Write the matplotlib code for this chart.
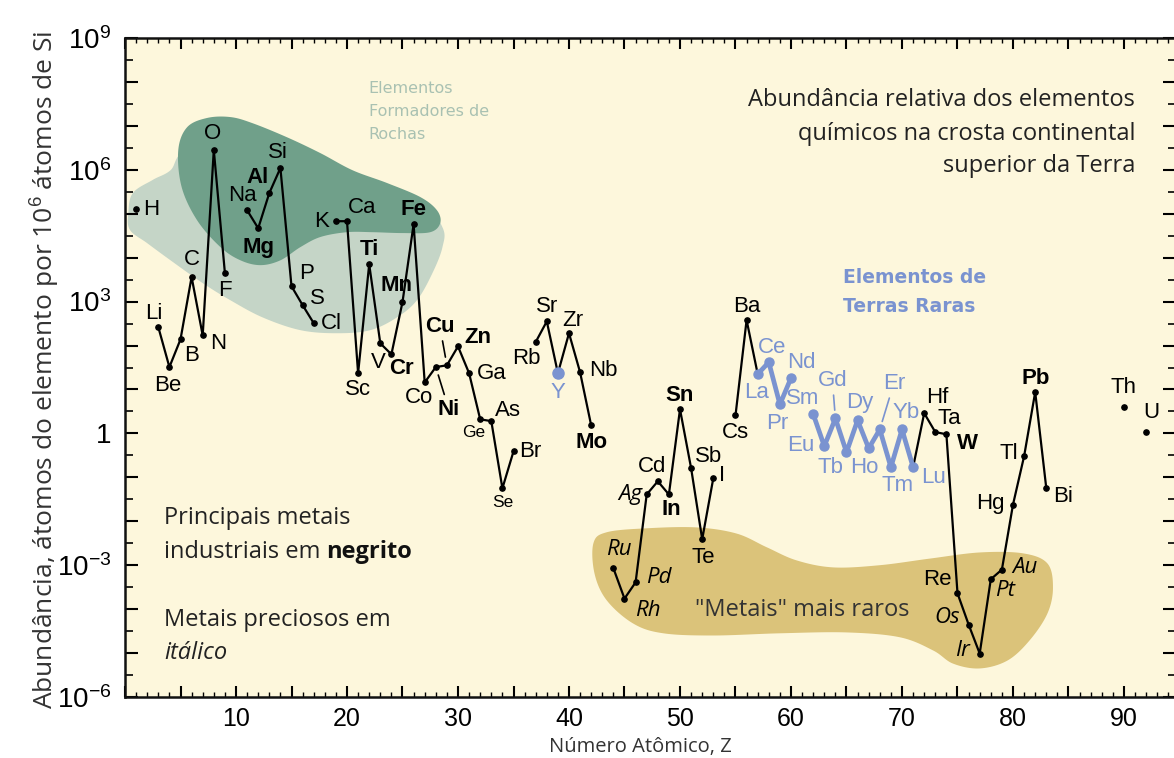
import numpy as np
import matplotlib.pyplot as plt
from matplotlib.ticker import FixedLocator, MultipleLocator, FuncFormatter

plt.rcParams['mathtext.fontset'] = 'custom'
plt.rcParams['mathtext.rm'] = 'Liberation Sans'
plt.rcParams['mathtext.it'] = 'Liberation Sans:italic'
plt.rcParams['mathtext.bf'] = 'Liberation Sans:bold'

# element data (log10 of atoms per 1e6 Si atoms)
symbols = ['H', 'Li', 'Be', 'B', 'C', 'N', 'O', 'F',
           'Na', 'Mg', 'Al', 'Si', 'P', 'S', 'Cl',
           'K', 'Ca', 'Sc', 'Ti', 'V', 'Cr', 'Mn', 'Fe', 'Co', 'Ni', 'Cu', 'Zn',
           'Ga', 'Ge', 'As', 'Se', 'Br',
           'Rb', 'Sr', 'Y', 'Zr', 'Nb', 'Mo',
           'Ru', 'Rh', 'Pd', 'Ag', 'Cd', 'In', 'Sn', 'Sb', 'Te', 'I',
           'Cs', 'Ba',
           'La', 'Ce', 'Pr', 'Nd', 'Sm', 'Eu', 'Gd', 'Tb', 'Dy', 'Ho', 'Er',
           'Tm', 'Yb', 'Lu',
           'Hf', 'Ta', 'W', 'Re', 'Os', 'Ir', 'Pt', 'Au', 'Hg', 'Tl', 'Pb', 'Bi',
           'Th', 'U']
Z = [1, 3, 4, 5, 6, 7, 8, 9,
     11, 12, 13, 14, 15, 16, 17,
     19, 20, 21, 22, 23, 24, 25, 26, 27, 28, 29, 30,
     31, 32, 33, 34, 35,
     37, 38, 39, 40, 41, 42,
     44, 45, 46, 47, 48, 49, 50, 51, 52, 53,
     55, 56,
     57, 58, 59, 60, 62, 63, 64, 65, 66, 67, 68,
     69, 70, 71,
     72, 73, 74, 75, 76, 77, 78, 79, 80, 81, 82, 83,
     90, 92]
log_abund = [5.1, 2.42, 1.51, 2.14, 3.56, 2.23, 6.45, 3.65,
             5.08, 4.67, 5.47, 6.04, 3.35, 2.92, 2.51,
             4.83, 4.83, 1.37, 3.85, 2.05, 1.8, 2.99, 4.76, 1.16, 1.51, 1.55, 1.98,
             1.37, 0.32, 0.28, -1.25, -0.41,
             2.08, 2.55, 1.37, 2.28, 1.39, 0.18,
             -3.07, -3.76, -3.39, -1.39, -1.09, -1.39, 0.55, -0.79, -2.41, -1.02,
             0.41, 2.58,
             1.35, 1.62, 0.66, 1.26, 0.44, -0.29, 0.34, -0.43, 0.30, -0.34, 0.09,
             -0.77, 0.09, -0.77,
             0.46, 0.03, -0.02, -3.64, -4.35, -5.01, -3.32, -3.1, -1.62, -0.52, 0.94, -1.25,
             0.59, 0.03]

rare_earths = ['La', 'Ce', 'Pr', 'Nd', 'Sm', 'Eu', 'Gd', 'Tb', 'Dy', 'Ho', 'Er', 'Tm', 'Yb', 'Lu']
bold_syms = ['Mg', 'Al', 'Ti', 'Cr', 'Mn', 'Fe', 'Ni', 'Cu', 'Zn', 'Mo', 'In', 'Sn', 'W', 'Pb']
italic_syms = ['Ru', 'Rh', 'Pd', 'Ag', 'Os', 'Ir', 'Pt', 'Au']
small_syms = ['Ge', 'Se']

# label placement (offset in pixels from the point)
label_pos = {
    'H': (7, 0, 'left'), 'Li': (-4, 14), 'Be': (-2, -18), 'B': (11, -16),
    'C': (0, 17), 'N': (15, -8), 'O': (-1, 17), 'F': (0, -17),
    'Na': (-5, 15), 'Mg': (0, -19), 'Al': (-12, 16), 'Si': (-2, 16),
    'P': (15, 13), 'S': (15, 7), 'Cl': (7, 0, 'left'), 'K': (-7, 0, 'right'),
    'Ca': (15, 14), 'Sc': (0, -16), 'Ti': (0, 15), 'V': (-2, -19),
    'Cr': (10, -14), 'Mn': (-6, 17), 'Fe': (0, 15), 'Co': (-6, -15),
    'Ni': (13, -42), 'Cu': (-7, 39), 'Zn': (20, 9), 'Ga': (8, 0, 'left'),
    'Ge': (-7, -13), 'As': (17, 11), 'Se': (0, -14), 'Br': (6, 0, 'left'),
    'Rb': (-9, -16), 'Sr': (0, 15), 'Y': (0, -19), 'Zr': (4, 13),
    'Nb': (9, 2, 'left'), 'Mo': (0, -17), 'Ru': (5, 19), 'Rh': (23, -12),
    'Pd': (23, 5), 'Ag': (-4, 0, 'right'), 'Cd': (-6, 15), 'In': (2, -15),
    'Sn': (0, 14), 'Sb': (17, 12), 'Te': (1, -18), 'I': (9, 3),
    'Cs': (0, -17), 'Ba': (0, 14), 'La': (-1, -18), 'Ce': (3, 15),
    'Pr': (-3, -19), 'Nd': (10, 16), 'Sm': (-11, 16), 'Eu': (-24, 1),
    'Gd': (-3, 38), 'Tb': (-16, -15), 'Dy': (2, 18), 'Ho': (-4, -19),
    'Er': (14, 46), 'Tm': (7, -18), 'Yb': (4, 17), 'Lu': (20, -10),
    'Hf': (13, 16), 'Ta': (14, 14), 'W': (21, -9), 'Re': (-20, 14),
    'Os': (-21, 7), 'Ir': (-17, 3), 'Pt': (14, -11), 'Au': (23, 2),
    'Hg': (-23, 1), 'Tl': (-15, 3), 'Pb': (0, 14), 'Bi': (17, -8),
    'Th': (0, 20), 'U': (5, 20),
}
leaders = ['Ni', 'Cu', 'Gd', 'Er']

# shaded regions, outlines in (Z, log10 abundance)
rock_dark_z = [4.8, 5.6, 7.4, 9.5, 11.5, 14.6, 17.6, 20.5, 23.6, 26.6, 28.1, 28.4,
               27.5, 25.0, 22.3, 20.0, 17.6, 15.8, 14.0, 12.2, 10.4, 8.6, 6.5, 5.1]
rock_dark_l = [6.45, 6.97, 7.18, 7.2, 7.06, 6.74, 6.38, 5.99, 5.70, 5.38, 5.08, 4.79,
               4.58, 4.56, 4.58, 4.58, 4.47, 4.24, 3.94, 3.83, 3.94, 4.24, 4.85, 5.61]
rock_light_z = [0.3, 0.7, 2.5, 4.1, 5.6, 11.5, 20.5, 26.6, 28.6, 28.6, 27.7, 26.3,
                24.5, 22.1, 19.1, 15.8, 12.4, 9.5, 7.0, 4.1, 2.0, 0.45]
rock_light_l = [5.01, 5.47, 5.77, 5.99, 6.45, 6.68, 5.77, 5.31, 4.69, 4.24, 3.65, 3.03,
                2.64, 2.35, 2.28, 2.35, 2.64, 3.03, 3.42, 3.94, 4.33, 4.63]
rare_z = [42.2, 43.4, 47.0, 51.5, 55.1, 57.8, 60.5, 63.8, 68.0, 72.5, 77.0, 80.9,
          83.1, 83.6, 83.1, 81.5, 79.5, 77.0, 74.6, 72.8, 69.8, 65.0, 59.0, 53.0,
          48.5, 45.8, 43.4, 42.3]
rare_l = [-2.5, -2.25, -2.16, -2.14, -2.28, -2.59, -2.89, -3.05, -3.0, -2.85, -2.71, -2.73,
          -2.96, -3.51, -4.10, -4.71, -5.17, -5.35, -5.24, -4.94, -4.64, -4.53, -4.55, -4.6,
          -4.55, -4.33, -3.80, -3.19]

BG = '#fdf7dc'
DARK = '#70a08a'
LIGHT = '#c5d5c7'
GOLD = '#dbc37a'
BLUE = '#7a93d0'


def smooth_closed(xs, ys, n=24):
    # closed Catmull-Rom spline through the outline points
    pts = np.column_stack([xs, ys])
    P = np.vstack([pts[-1], pts, pts[0], pts[1]])
    t = np.linspace(0, 1, n, endpoint=False)[:, None]
    segs = []
    for i in range(1, len(pts) + 1):
        p0, p1, p2, p3 = P[i - 1], P[i], P[i + 1], P[i + 2]
        segs.append(0.5 * (2 * p1 + (-p0 + p2) * t
                           + (2 * p0 - 5 * p1 + 4 * p2 - p3) * t ** 2
                           + (-p0 + 3 * p1 - 3 * p2 + p3) * t ** 3))
    out = np.vstack(segs)
    return out[:, 0], out[:, 1]


def broken(zs, vs):
    # insert gaps where elements are missing
    bx, by = [], []
    for i in range(len(zs)):
        if i > 0 and zs[i] - zs[i - 1] > 1:
            bx.append(np.nan)
            by.append(np.nan)
        bx.append(zs[i])
        by.append(vs[i])
    return bx, by


fig = plt.figure(figsize=(11.74, 7.58), dpi=100)
ax = fig.add_axes([125 / 1174, 61 / 758, 1051 / 1174, 659 / 758])
ax.set_facecolor(BG)
ax.set_yscale('log')
ax.set_xlim(0, 1051 / 11.1)
ax.set_ylim(1e-6, 1e9)

for zz, ll, col in [(rock_light_z, rock_light_l, LIGHT),
                    (rock_dark_z, rock_dark_l, DARK),
                    (rare_z, rare_l, GOLD)]:
    sx, sy = smooth_closed(zz, ll)
    ax.fill(sx, 10 ** sy, color=col, lw=0, zorder=1)

vals = 10 ** np.array(log_abund)
zarr = np.array(Z, dtype=float)

lx, ly = broken(Z, vals)
ax.plot(lx, ly, color='black', lw=1.6, zorder=4)

ree_idx = [symbols.index(s) for s in rare_earths]
rx, ry = broken([Z[i] for i in ree_idx], [vals[i] for i in ree_idx])
ax.plot(rx, ry, color=BLUE, lw=3.4, zorder=5)
ax.plot([Z[i] for i in ree_idx], [vals[i] for i in ree_idx], 'o', color=BLUE, ms=6.5, zorder=6)

iy = symbols.index('Y')
ax.plot([Z[iy]], [vals[iy]], 'o', color=BLUE, ms=8, zorder=6)

blk = [i for i, s in enumerate(symbols) if s not in rare_earths and s != 'Y']
ax.plot(zarr[blk], vals[blk], 'o', color='black', ms=3.8, zorder=6)

for i, s in enumerate(symbols):
    p = label_pos[s]
    ha = p[2] if len(p) > 2 else 'center'
    color = BLUE if (s in rare_earths or s == 'Y') else 'black'
    kw = dict(fontsize=16, family='Liberation Sans', color=color)
    if s in bold_syms:
        kw['fontweight'] = 'bold'
    if s in italic_syms:
        kw['family'] = 'Open Sans'
        kw['style'] = 'italic'
        kw['fontsize'] = 16
    if s in small_syms:
        kw['fontsize'] = 12.5
    arrow = None
    if s in leaders:
        arrow = dict(arrowstyle='-', color=color, lw=1.2, shrinkA=1, shrinkB=6)
    ax.annotate(s, (Z[i], vals[i]), xytext=(p[0], p[1]), textcoords='offset pixels',
                ha=ha, va='center', arrowprops=arrow, zorder=7, **kw)

# axes styling
ax.yaxis.set_major_locator(FixedLocator(10.0 ** np.arange(-6, 10)))
ax.yaxis.set_minor_locator(FixedLocator(10.0 ** (np.arange(-6, 9) + 0.5)))


def yfmt(v, pos):
    e = int(round(np.log10(v)))
    if e % 3:
        return ''
    if e == 0:
        return '1'
    return r'$\mathregular{10^{%d}}$' % e


ax.yaxis.set_major_formatter(FuncFormatter(yfmt))
ax.yaxis.set_minor_formatter(FuncFormatter(lambda v, p: ''))
ax.xaxis.set_major_locator(MultipleLocator(5))
ax.xaxis.set_minor_locator(MultipleLocator(1))
ax.xaxis.set_major_formatter(FuncFormatter(lambda v, p: '%d' % v if v > 0 and int(round(v)) % 10 == 0 else ''))

ax.tick_params(axis='y', which='major', direction='in', length=9.5, width=1.5,
               left=True, right=True, labelsize=20, pad=10, labelfontfamily='Liberation Sans')
ax.tick_params(axis='y', which='minor', direction='in', length=5.5, width=1.2,
               left=True, right=True)
ax.tick_params(axis='x', which='major', direction='in', length=8, width=1.5,
               top=True, bottom=True, labelsize=18, pad=7, labelfontfamily='Liberation Sans')
ax.tick_params(axis='x', which='minor', direction='in', length=3.5, width=1.0,
               top=True, bottom=True)
for sp in ax.spines.values():
    sp.set_linewidth(1.8)
    sp.set_color('#111111')

fig.text(640 / 1174, 1 - 752 / 758, 'Número Atômico, Z', ha='center', va='baseline',
         fontsize=14.5, family='Open Sans', color='#333333')
fig.text(45 / 1174, 0.512, 'Abundância, átomos do elemento por 10$^{6}$ átomos de Si',
         rotation=90, ha='center', va='center', fontsize=19, family='Open Sans', color='#333333')

# annotations inside the plot
title_lines = ['Abundância relativa dos elementos', 'químicos na crosta continental',
               'superior da Terra']
for txt, fy in zip(title_lines, [0.906, 0.854, 0.806]):
    ax.text(0.961, fy, txt, transform=ax.transAxes, ha='right', va='center',
            fontsize=17, family='Open Sans', color='#222222')

for txt, fy in zip(['Elementos', 'Formadores de', 'Rochas'], [0.924, 0.888, 0.853]):
    ax.text(0.232, fy, txt, transform=ax.transAxes, ha='left', va='center',
            fontsize=11.5, family='DejaVu Sans', color='#a9c1b2')

for txt, fy in zip(['Elementos de', 'Terras Raras'], [0.636, 0.592]):
    ax.text(0.683, fy, txt, transform=ax.transAxes, ha='left', va='center',
            fontsize=13.5, family='DejaVu Sans', fontweight='bold', color=BLUE)

ax.text(0.644, 0.132, '"Metais" mais raros', transform=ax.transAxes, ha='center',
        va='center', fontsize=17, family='Open Sans', color='#333333', zorder=7)

ax.text(0.037, 0.272, 'Principais metais', transform=ax.transAxes, ha='left', va='center',
        fontsize=17, family='Open Sans', color='#222222')
t1 = ax.text(0.037, 0.220, 'industriais em ', transform=ax.transAxes, ha='left', va='center',
             fontsize=17, family='Open Sans', color='#222222')
ax.annotate('negrito', xy=(1, 0.5), xycoords=t1, ha='left', va='center',
            fontsize=17, family='Open Sans', fontweight='bold', color='#111111')
ax.text(0.037, 0.117, 'Metais preciosos em', transform=ax.transAxes, ha='left', va='center',
        fontsize=17, family='Open Sans', color='#222222')
ax.text(0.037, 0.067, 'itálico', transform=ax.transAxes, ha='left', va='center',
        fontsize=17, family='Open Sans', style='italic', color='#222222')

fig.savefig('out.png', dpi=100)
